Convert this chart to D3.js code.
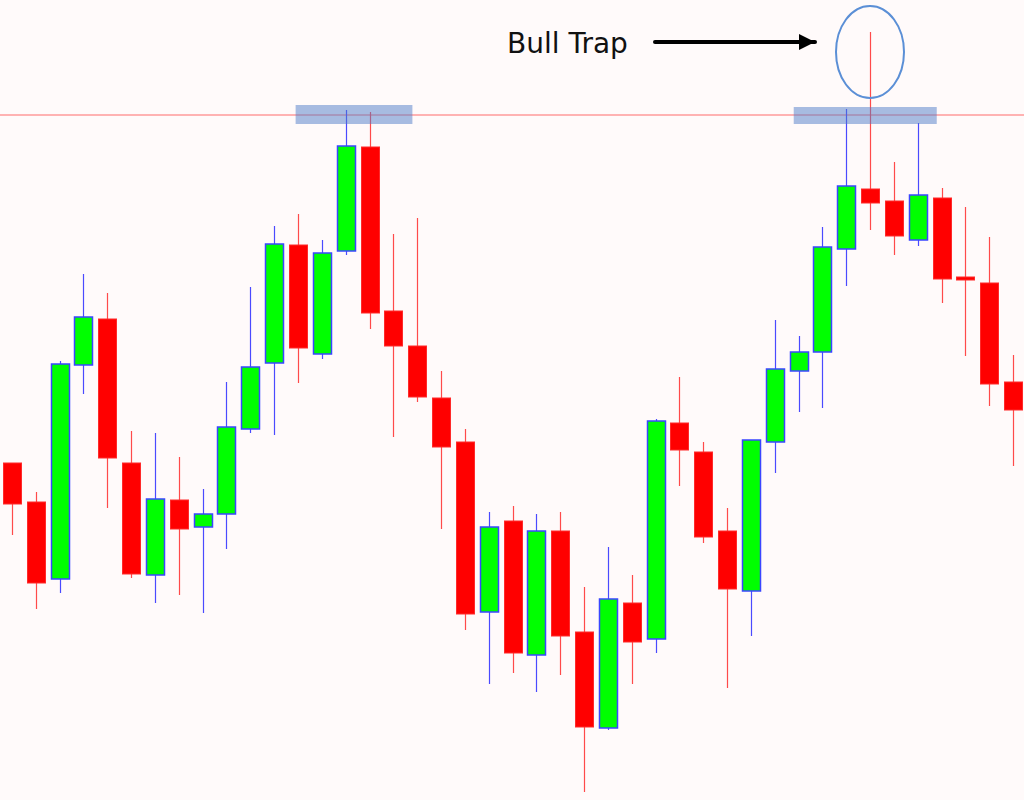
<!DOCTYPE html>
<html>
<head>
<meta charset="utf-8">
<script src="https://cdn.jsdelivr.net/npm/d3@7"></script>
<style>
  html, body { margin: 0; padding: 0; background: #fffafa; }
  svg { display: block; }
</style>
</head>
<body>
<svg id="chart" width="1024" height="800"></svg>
<script>
// =============================================
//  Candlestick chart  |  Bull Trap
// =============================================

// price points (arbitrary units), one entry per candle
const OPEN  = [337, 298, 221, 435, 481, 337, 225, 300, 273, 286, 371, 437, 555, 446, 549, 653, 489, 454, 402, 358, 188, 279,
               145, 269, 168,  72, 197, 161, 377, 348, 269, 209, 358, 429, 448, 551, 611, 599, 560, 602, 523, 517, 418];
const HIGH  = [337, 308, 439, 526, 507, 369, 367, 343, 311, 418, 513, 574, 586, 560, 690, 688, 566, 582, 429, 371, 288, 294,
               286, 288, 213, 253, 225, 381, 423, 358, 292, 360, 480, 464, 573, 691, 768, 638, 677, 612, 593, 563, 445];
const LOW   = [265, 191, 207, 406, 292, 222, 197, 205, 187, 251, 367, 365, 417, 441, 545, 471, 363, 398, 271, 170, 116, 127,
               108, 125,   8,  70, 116, 147, 314, 257, 112, 164, 327, 388, 392, 514, 570, 545, 554, 497, 444, 394, 334];
const CLOSE = [296, 217, 436, 483, 342, 226, 301, 271, 286, 373, 433, 556, 452, 547, 654, 487, 454, 403, 353, 186, 273, 147,
               269, 164,  73, 201, 158, 379, 350, 263, 211, 360, 431, 448, 553, 614, 597, 564, 605, 521, 520, 416, 390];

const RESISTANCE = 685;
// highlighted zones: [from candle, to candle, low, high]
const ZONES = [[11.9, 16.8, 676, 695], [32.8, 38.8, 676, 693]];
const TRAP_CANDLE = 36;
const LABEL = "Bull Trap";

// ── Setup ───────────────────────────────────────────────────────────
const width = 1024, height = 800;
const svg = d3.select("#chart");

svg.append("rect").attr("width", width).attr("height", height).attr("fill", "#fffafa");

const candles = OPEN.map((o, i) => ({ i, o, h: HIGH[i], l: LOW[i], c: CLOSE[i] }));

const x = d3.scaleLinear().domain([0, candles.length - 1]).range([12, 1013]);
const y = d3.scaleLinear().domain([0, 800]).range([800, 0]);
const bodyW = 18;

const isUp = d => d.c >= d.o;

// ── Resistance line ────────────────────────────────────────────────
svg.append("line")
  .attr("x1", 0).attr("x2", width)
  .attr("y1", y(RESISTANCE)).attr("y2", y(RESISTANCE))
  .attr("stroke", "#ff6b6b").attr("stroke-width", 1.2);

// ── Candles ────────────────────────────────────────────────────────
const g = svg.append("g");

g.selectAll("line.wick")
  .data(candles)
  .join("line")
  .attr("class", "wick")
  .attr("x1", d => Math.round(x(d.i)) + 0.5).attr("x2", d => Math.round(x(d.i)) + 0.5)
  .attr("y1", d => y(d.h)).attr("y2", d => y(d.l))
  .attr("stroke", d => isUp(d) ? "#4a4aff" : "#ff4a4a")
  .attr("stroke-width", 1.2);

g.selectAll("rect.body")
  .data(candles)
  .join("rect")
  .attr("class", "body")
  .attr("x", d => Math.round(x(d.i)) - bodyW / 2 + 0.5)
  .attr("width", bodyW)
  .attr("y", d => y(Math.max(d.o, d.c)))
  .attr("height", d => Math.max(2, Math.abs(y(d.o) - y(d.c))))
  .attr("fill", d => isUp(d) ? "#00ff00" : "#ff0000")
  .attr("stroke", d => isUp(d) ? "#3a46ff" : "#ff2a2a")
  .attr("stroke-width", d => isUp(d) ? 1.5 : 1);

// ── Zones ──────────────────────────────────────────────────────────
svg.selectAll("rect.zone")
  .data(ZONES)
  .join("rect")
  .attr("class", "zone")
  .attr("x", d => x(d[0]))
  .attr("width", d => x(d[1]) - x(d[0]))
  .attr("y", d => y(d[3]))
  .attr("height", d => y(d[2]) - y(d[3]))
  .attr("fill", "#4f7bc8")
  .attr("opacity", 0.5);

// ── Annotation ─────────────────────────────────────────────────────
const trap = candles[TRAP_CANDLE];
const cx = x(trap.i), cy = y(trap.h) + 20;

svg.append("ellipse")
  .attr("cx", cx).attr("cy", cy)
  .attr("rx", 34).attr("ry", 46)
  .attr("fill", "none")
  .attr("stroke", "#5b8fd6")
  .attr("stroke-width", 2);

const defs = svg.append("defs");
defs.append("marker")
  .attr("id", "arrow")
  .attr("viewBox", "0 0 10 10")
  .attr("refX", 10).attr("refY", 5)
  .attr("markerWidth", 4).attr("markerHeight", 4)
  .attr("markerUnits", "strokeWidth")
  .attr("orient", "auto")
  .append("path")
  .attr("d", "M0,0 L10,5 L0,10 Z")
  .attr("fill", "#000");

svg.append("line")
  .attr("x1", cx - 215).attr("x2", cx - 55)
  .attr("y1", cy - 10).attr("y2", cy - 10)
  .attr("stroke", "#000")
  .attr("stroke-width", 4)
  .attr("stroke-linecap", "round")
  .attr("marker-end", "url(#arrow)");

svg.append("text")
  .attr("x", cx - 363).attr("y", cy + 1)
  .attr("font-family", "DejaVu Sans, Verdana, sans-serif")
  .attr("font-size", 28)
  .attr("fill", "#111")
  .text(LABEL);
</script>
</body>
</html>
